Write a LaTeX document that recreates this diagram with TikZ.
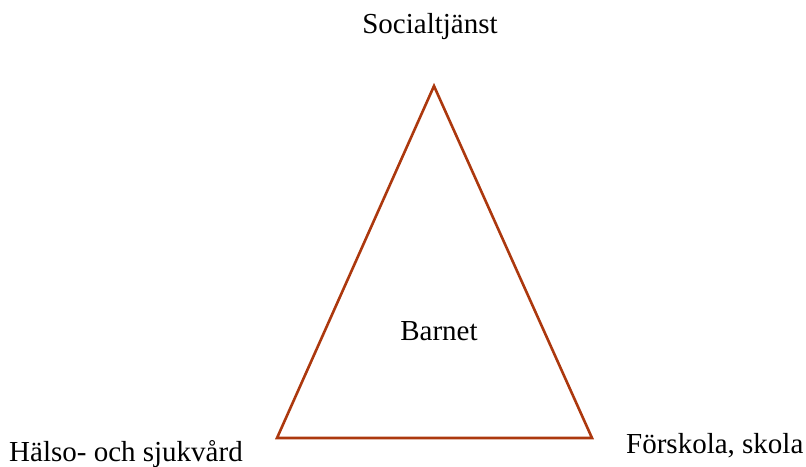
\documentclass[tikz,border=0pt]{standalone}
\usepackage{fontspec}
\setmainfont{Liberation Serif}
\definecolor{tri}{RGB}{172,56,14}
\begin{document}
\begin{tikzpicture}[x=1pt,y=-1pt,
  lbl/.style={inner sep=0pt,font=\fontsize{29}{32}\selectfont}]
\useasboundingbox (0,0) rectangle (806,466);
\coordinate (top) at (434,86);
\coordinate (bl) at (277,438);
\coordinate (br) at (592,438);
\draw[tri,line width=2.6pt,line join=miter] (top) -- (bl) -- (br) -- cycle;
\node[lbl,anchor=base] (soc) at (430,33) {Socialtjänst};
\node[lbl,anchor=base] (barn) at (439,340) {Barnet};
\node[lbl,anchor=base west] (hs) at (9,461) {Hälso- och sjukvård};
\node[lbl,anchor=base west] (fs) at (626,453) {Förskola, skola};
\end{tikzpicture}
\end{document}
